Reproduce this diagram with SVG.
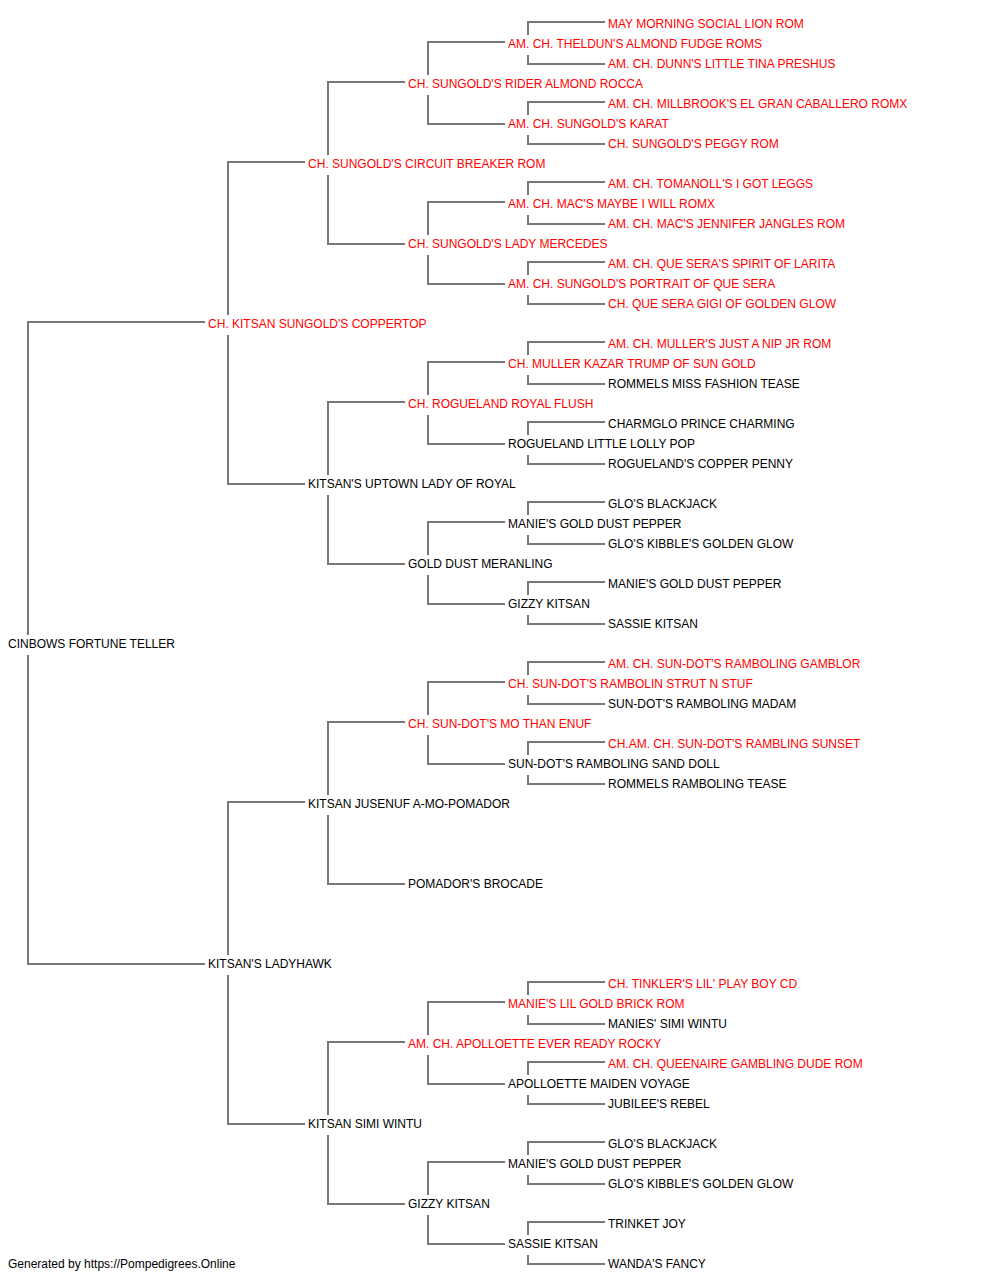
<svg xmlns="http://www.w3.org/2000/svg" width="1000" height="1280" viewBox="0 0 1000 1280">
<style>
text{font-family:"Liberation Sans",Arial,sans-serif;font-size:12px;fill:#000}
text.r{fill:#ff0000}
.c path{fill:none;stroke:#777;stroke-width:2}
</style>
<rect width="1000" height="1280" fill="#fff"/>
<g class="c" id="connectors">
<path d="M205 322H28V635M28 655V964H205"/>
<path d="M305 162H228V315M228 335V484H305"/>
<path d="M305 802H228V955M228 975V1124H305"/>
<path d="M405 82H328V155M328 175V244H405"/>
<path d="M405 402H328V475M328 495V564H405"/>
<path d="M405 722H328V795M328 815V884H405"/>
<path d="M405 1042H328V1115M328 1135V1204H405"/>
<path d="M505 42H428V75M428 95V124H505"/>
<path d="M505 202H428V235M428 255V284H505"/>
<path d="M505 362H428V395M428 415V444H505"/>
<path d="M505 522H428V555M428 575V604H505"/>
<path d="M505 682H428V715M428 735V764H505"/>
<path d="M505 1002H428V1035M428 1055V1084H505"/>
<path d="M505 1162H428V1195M428 1215V1244H505"/>
<path d="M605 22H528V35M528 55V64H605"/>
<path d="M605 102H528V115M528 135V144H605"/>
<path d="M605 182H528V195M528 215V224H605"/>
<path d="M605 262H528V275M528 295V304H605"/>
<path d="M605 342H528V355M528 375V384H605"/>
<path d="M605 422H528V435M528 455V464H605"/>
<path d="M605 502H528V515M528 535V544H605"/>
<path d="M605 582H528V595M528 615V624H605"/>
<path d="M605 662H528V675M528 695V704H605"/>
<path d="M605 742H528V755M528 775V784H605"/>
<path d="M605 982H528V995M528 1015V1024H605"/>
<path d="M605 1062H528V1075M528 1095V1104H605"/>
<path d="M605 1142H528V1155M528 1175V1184H605"/>
<path d="M605 1222H528V1235M528 1255V1264H605"/>
</g>
<g id="n0"><text x="8" y="648">CINBOWS FORTUNE TELLER</text></g>
<g id="n1"><text class="r" x="208" y="328">CH. KITSAN SUNGOLD'S COPPERTOP</text></g>
<g id="n2"><text x="208" y="968">KITSAN'S LADYHAWK</text></g>
<g id="n3"><text class="r" x="308" y="168">CH. SUNGOLD'S CIRCUIT BREAKER ROM</text></g>
<g id="n4"><text x="308" y="488">KITSAN'S UPTOWN LADY OF ROYAL</text></g>
<g id="n5"><text x="308" y="808">KITSAN JUSENUF A-MO-POMADOR</text></g>
<g id="n6"><text x="308" y="1128">KITSAN SIMI WINTU</text></g>
<g id="n7"><text class="r" x="408" y="88">CH. SUNGOLD'S RIDER ALMOND ROCCA</text></g>
<g id="n8"><text class="r" x="408" y="248">CH. SUNGOLD'S LADY MERCEDES</text></g>
<g id="n9"><text class="r" x="408" y="408">CH. ROGUELAND ROYAL FLUSH</text></g>
<g id="n10"><text x="408" y="568">GOLD DUST MERANLING</text></g>
<g id="n11"><text class="r" x="408" y="728">CH. SUN-DOT'S MO THAN ENUF</text></g>
<g id="n12"><text x="408" y="888">POMADOR'S BROCADE</text></g>
<g id="n13"><text class="r" x="408" y="1048">AM. CH. APOLLOETTE EVER READY ROCKY</text></g>
<g id="n14"><text x="408" y="1208">GIZZY KITSAN</text></g>
<g id="n15"><text class="r" x="508" y="48">AM. CH. THELDUN'S ALMOND FUDGE ROMS</text></g>
<g id="n16"><text class="r" x="508" y="128">AM. CH. SUNGOLD'S KARAT</text></g>
<g id="n17"><text class="r" x="508" y="208">AM. CH. MAC'S MAYBE I WILL ROMX</text></g>
<g id="n18"><text class="r" x="508" y="288">AM. CH. SUNGOLD'S PORTRAIT OF QUE SERA</text></g>
<g id="n19"><text class="r" x="508" y="368">CH. MULLER KAZAR TRUMP OF SUN GOLD</text></g>
<g id="n20"><text x="508" y="448">ROGUELAND LITTLE LOLLY POP</text></g>
<g id="n21"><text x="508" y="528">MANIE'S GOLD DUST PEPPER</text></g>
<g id="n22"><text x="508" y="608">GIZZY KITSAN</text></g>
<g id="n23"><text class="r" x="508" y="688">CH. SUN-DOT'S RAMBOLIN STRUT N STUF</text></g>
<g id="n24"><text x="508" y="768">SUN-DOT'S RAMBOLING SAND DOLL</text></g>
<g id="n25"><text class="r" x="508" y="1008">MANIE'S LIL GOLD BRICK ROM</text></g>
<g id="n26"><text x="508" y="1088">APOLLOETTE MAIDEN VOYAGE</text></g>
<g id="n27"><text x="508" y="1168">MANIE'S GOLD DUST PEPPER</text></g>
<g id="n28"><text x="508" y="1248">SASSIE KITSAN</text></g>
<g id="n29"><text class="r" x="608" y="28">MAY MORNING SOCIAL LION ROM</text></g>
<g id="n30"><text class="r" x="608" y="68">AM. CH. DUNN'S LITTLE TINA PRESHUS</text></g>
<g id="n31"><text class="r" x="608" y="108">AM. CH. MILLBROOK'S EL GRAN CABALLERO ROMX</text></g>
<g id="n32"><text class="r" x="608" y="148">CH. SUNGOLD'S PEGGY ROM</text></g>
<g id="n33"><text class="r" x="608" y="188">AM. CH. TOMANOLL'S I GOT LEGGS</text></g>
<g id="n34"><text class="r" x="608" y="228">AM. CH. MAC'S JENNIFER JANGLES ROM</text></g>
<g id="n35"><text class="r" x="608" y="268">AM. CH. QUE SERA'S SPIRIT OF LARITA</text></g>
<g id="n36"><text class="r" x="608" y="308">CH. QUE SERA GIGI OF GOLDEN GLOW</text></g>
<g id="n37"><text class="r" x="608" y="348">AM. CH. MULLER'S JUST A NIP JR ROM</text></g>
<g id="n38"><text x="608" y="388">ROMMELS MISS FASHION TEASE</text></g>
<g id="n39"><text x="608" y="428">CHARMGLO PRINCE CHARMING</text></g>
<g id="n40"><text x="608" y="468">ROGUELAND'S COPPER PENNY</text></g>
<g id="n41"><text x="608" y="508">GLO'S BLACKJACK</text></g>
<g id="n42"><text x="608" y="548">GLO'S KIBBLE'S GOLDEN GLOW</text></g>
<g id="n43"><text x="608" y="588">MANIE'S GOLD DUST PEPPER</text></g>
<g id="n44"><text x="608" y="628">SASSIE KITSAN</text></g>
<g id="n45"><text class="r" x="608" y="668">AM. CH. SUN-DOT'S RAMBOLING GAMBLOR</text></g>
<g id="n46"><text x="608" y="708">SUN-DOT'S RAMBOLING MADAM</text></g>
<g id="n47"><text class="r" x="608" y="748">CH.AM. CH. SUN-DOT'S RAMBLING SUNSET</text></g>
<g id="n48"><text x="608" y="788">ROMMELS RAMBOLING TEASE</text></g>
<g id="n49"><text class="r" x="608" y="988">CH. TINKLER'S LIL' PLAY BOY CD</text></g>
<g id="n50"><text x="608" y="1028">MANIES' SIMI WINTU</text></g>
<g id="n51"><text class="r" x="608" y="1068">AM. CH. QUEENAIRE GAMBLING DUDE ROM</text></g>
<g id="n52"><text x="608" y="1108">JUBILEE'S REBEL</text></g>
<g id="n53"><text x="608" y="1148">GLO'S BLACKJACK</text></g>
<g id="n54"><text x="608" y="1188">GLO'S KIBBLE'S GOLDEN GLOW</text></g>
<g id="n55"><text x="608" y="1228">TRINKET JOY</text></g>
<g id="n56"><text x="608" y="1268">WANDA'S FANCY</text></g>
<g id="footer"><text x="8" y="1268">Generated by https://Pompedigrees.Online</text></g>
</svg>
